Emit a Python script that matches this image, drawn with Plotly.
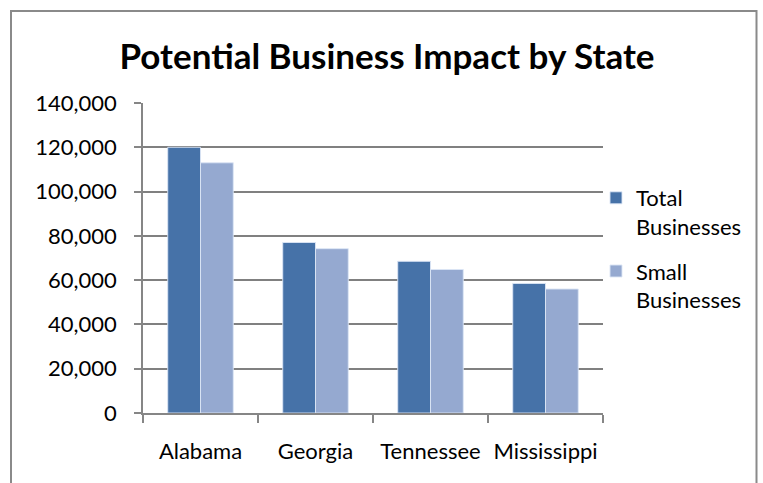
import plotly.graph_objects as go

states = ["Alabama", "Georgia", "Tennessee", "Mississippi"]
total_businesses = [120000, 77000, 68500, 58500]
small_businesses = [113000, 74200, 64800, 56000]
y_ticks = [0, 20000, 40000, 60000, 80000, 100000, 120000, 140000]

FONT = "Lato"
W, H = 763, 483
L, R, T, B = 143, 160, 103, 70
pw, ph = W - L - R, H - T - B

fig = go.Figure()
fig.add_trace(go.Bar(
    name="Total<br>Businesses", x=states, y=total_businesses, legendgroup="t",
    marker=dict(color="#4672A8", line=dict(color="rgba(220,230,245,0.9)", width=1)),
))
fig.add_trace(go.Bar(
    name="Small<br>Businesses", x=states, y=small_businesses, legendgroup="s",
    marker=dict(color="#95A9D0", line=dict(color="rgba(220,230,245,0.9)", width=1)),
))

def px_x(x):
    return (x - L) / pw

def px_y(y):
    return (H - B - y) / ph

fig.update_layout(
    width=W, height=H,
    margin=dict(l=L, r=R, t=T, b=B, pad=0),
    paper_bgcolor="white", plot_bgcolor="white",
    barmode="group", bargap=0.43, bargroupgap=0,
    font=dict(family=FONT, size=22, color="black"),
    title=dict(text="<b>Potential Business Impact by State</b>",
               font=dict(family=FONT, size=35, color="black"),
               x=387 / W, xanchor="center", y=1 - 57 / H, yanchor="middle"),
    legend=dict(x=px_x(596), xanchor="left", y=px_y(177), yanchor="top",
                valign="top", font=dict(family=FONT, size=22),
                tracegroupgap=13,
                bgcolor="rgba(0,0,0,0)", borderwidth=0),
    xaxis=dict(showgrid=False, showline=True, linecolor="#868686", linewidth=1.5,
               ticks="outside", tickson="boundaries", ticklen=8, tickcolor="#868686",
               tickwidth=1.5, ticklabelstandoff=18),
    yaxis=dict(range=[0, 140000], tickvals=y_ticks, tickformat=",",
               showgrid=True, gridcolor="#808080", gridwidth=1.7,
               showline=True, linecolor="#868686", linewidth=1.5,
               ticks="outside", ticklen=7, tickcolor="#868686", tickwidth=1.5,
               ticklabelstandoff=13, zeroline=False),
    shapes=[dict(type="rect", xref="paper", yref="paper",
                 x0=px_x(11), x1=px_x(756.5), y0=px_y(H + 10), y1=px_y(11),
                 line=dict(color="#8a8a8a", width=2), fillcolor="rgba(0,0,0,0)",
                 layer="below")],
)

fig.write_html("out.html", config={"displayModeBar": False},
               post_script="document.body.style.margin='0';document.body.style.overflow='hidden';")
